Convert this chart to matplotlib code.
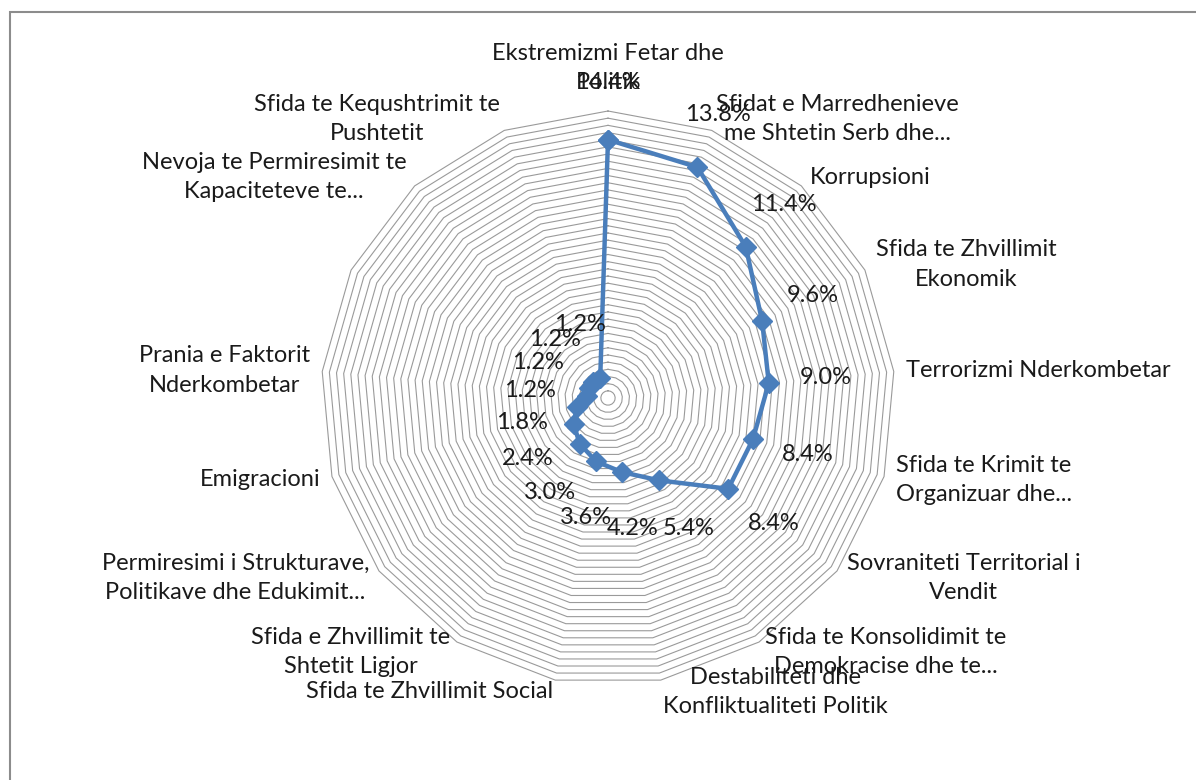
import numpy as np
import matplotlib
matplotlib.use("Agg")
import matplotlib.pyplot as plt
from matplotlib.patches import Rectangle

# Kategorite (ne drejtim te akrepave, nga lart); njera etikete nuk shfaqet ne grafik
categories = [
    "Ekstremizmi Fetar dhe\nPolitik",
    "Sfidat e Marredhenieve\nme Shtetin Serb dhe...",
    "Korrupsioni",
    "Sfida te Zhvillimit\nEkonomik",
    "Terrorizmi Nderkombetar",
    "Sfida te Krimit te\nOrganizuar dhe...",
    "Sovraniteti Territorial i\nVendit",
    "Sfida te Konsolidimit te\nDemokracise dhe te...",
    "Destabiliteti dhe\nKonfliktualiteti Politik",
    "Sfida te Zhvillimit Social",
    "Sfida e Zhvillimit te\nShtetit Ligjor",
    "Permiresimi i Strukturave,\nPolitikave dhe Edukimit...",
    "Emigracioni",
    "Prania e Faktorit\nNderkombetar",
    "",
    "Nevoja te Permiresimit te\nKapaciteteve te...",
    "Sfida te Kequshtrimit te\nPushtetit",
]
values = [14.4, 13.8, 11.4, 9.6, 9.0, 8.4, 8.4, 5.4, 4.2, 3.6, 3.0, 2.4, 1.8, 1.2, 1.2, 1.2, 1.2]

max_value = 16.0
grid_step = 0.4

W, H = 1196, 780
cx, cy = 608, 398          # qendra ne piksela
radius_px = 287
u = max_value / radius_px  # njesi per piksel

line_color = "#4A7EBB"
grid_color = "#9a9a9a"
text_color = "#1a1a1a"
font = "Lato"
fsize = 17

fig = plt.figure(figsize=(W / 100, H / 100), dpi=100)
ax = fig.add_axes([0, 0, 1, 1])
ax.set_xlim(-cx * u, (W - cx) * u)
ax.set_ylim(-(H - cy) * u, cy * u)
ax.axis("off")

n = len(values)
theta = np.arange(n) * 2 * np.pi / n
sin_t, cos_t = np.sin(theta), np.cos(theta)

# rrjeta poligonale
for r in np.arange(grid_step, max_value + 1e-9, grid_step):
    xs = np.append(r * sin_t, r * sin_t[0])
    ys = np.append(r * cos_t, r * cos_t[0])
    ax.plot(xs, ys, color=grid_color, lw=0.8, zorder=1)

# seria
vals = np.array(values)
xs = np.append(vals * sin_t, vals[0] * sin_t[0])
ys = np.append(vals * cos_t, vals[0] * cos_t[0])
ax.plot(xs, ys, color=line_color, lw=3.2, marker="D", markersize=10,
        markeredgecolor=line_color, zorder=3)

# etiketat e vlerave
off = 57 * u
for v, s, c in zip(values, sin_t, cos_t):
    ax.text((v + off) * s, (v + off) * c, f"{v:.1f}%", ha="center", va="center",
            fontsize=fsize, family=font, color=text_color, zorder=4)

# etiketat e kategorive
for lab, s, c in zip(categories, sin_t, cos_t):
    if not lab:
        continue
    if s > 0.1:
        ha = "left"
    elif s < -0.1:
        ha = "right"
    else:
        ha = "center"
    if c > 0.95:
        va, lab_r = "bottom", max_value + 18 * u
    else:
        va, lab_r = "center", max_value + 12 * u
    ax.text(lab_r * s, lab_r * c, lab, ha=ha, va=va, multialignment="center",
            fontsize=fsize, family=font, color=text_color, linespacing=1.5, zorder=4)

# korniza e grafikut
fig.patches.append(Rectangle((10 / W, -0.1), 1.2, 1.1 - 12 / H, transform=fig.transFigure,
                             fill=False, edgecolor="#8c8c8c", lw=1.5))

fig.savefig("out.png", dpi=100)
